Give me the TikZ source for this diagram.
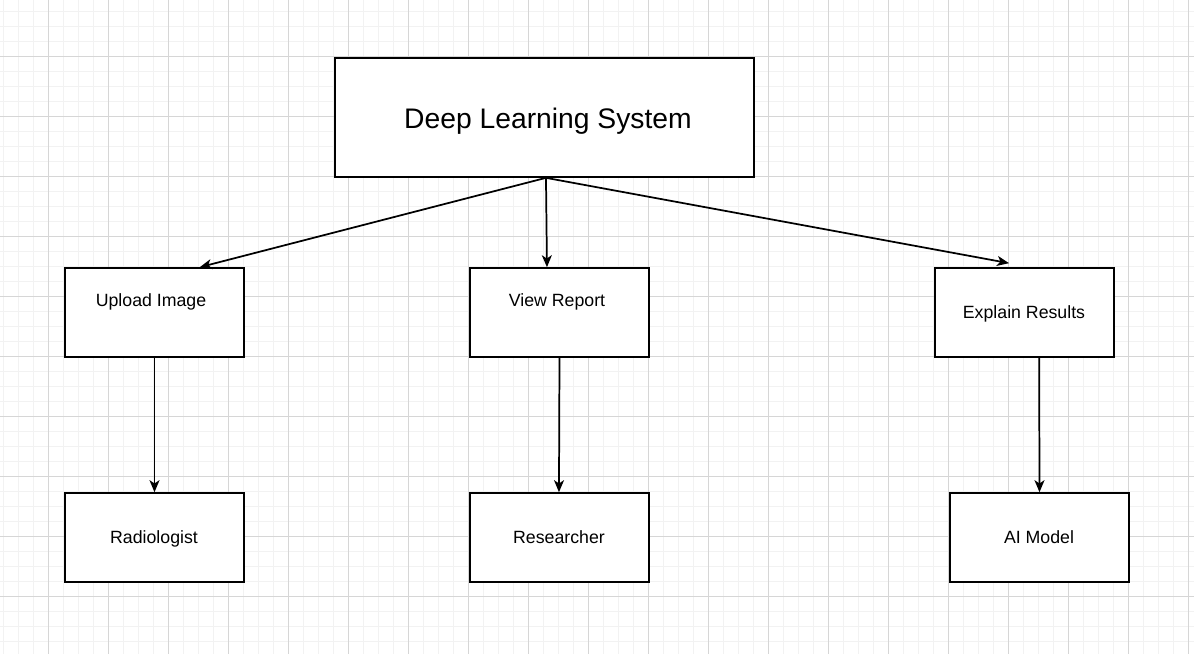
\documentclass[tikz,border=0pt]{standalone}
\usepackage{fontspec}
\setmainfont{Liberation Sans}
\usetikzlibrary{arrows.meta}
\tikzset{
  box/.style={draw=black, line width=1.25pt, fill=white, inner sep=0pt, minimum width=134.25pt, minimum height=66.75pt},
  lbl/.style={font=\fontsize{13.3pt}{15pt}\selectfont, anchor=base},
  conn/.style={line width=1.3pt, -{Stealth[length=9pt,width=7.5pt,inset=2.5pt]}},
}
\begin{document}
\begin{tikzpicture}[x=0.75pt,y=-0.75pt]
\useasboundingbox (0,0) rectangle (1194,654);
\fill[white] (0,0) rectangle (1194,654);
% minor grid
\foreach \x in {3,18,...,1194} \draw[color=black!5, line width=0.6pt] (\x,0) -- (\x,654);
\foreach \y in {11,26,...,654} \draw[color=black!5, line width=0.6pt] (0,\y) -- (1194,\y);
% major grid
\foreach \x in {48,108,...,1194} \draw[color=black!16, line width=0.6pt] (\x,0) -- (\x,654);
\foreach \y in {56,116,...,654} \draw[color=black!16, line width=0.6pt] (0,\y) -- (1194,\y);

% boxes
\node[box, minimum width=314.25pt, minimum height=89.25pt] (dls) at (544.5,117.5) {};
\node[font=\fontsize{21.2pt}{25pt}\selectfont, anchor=base] (dlsl) at (548,128.2) {Deep Learning System};

\node[box] (up) at (154.5,312.5) {};
\node[lbl] (upl) at (151,306.8) {Upload Image};
\node[box] (vr) at (559.5,312.5) {};
\node[lbl] (vrl) at (557,306.8) {View Report};
\node[box] (er) at (1024.5,312.5) {};
\node[lbl] (erl) at (1024,318.3) {Explain Results};

\node[box] (rad) at (154.5,537.5) {};
\node[lbl] (radl) at (154,543.5) {Radiologist};
\node[box] (res) at (559.5,537.5) {};
\node[lbl] (resl) at (559,543.5) {Researcher};
\node[box] (ai) at (1039.5,537.5) {};
\node[lbl] (ail) at (1039,543.5) {AI Model};

\coordinate (dlsb) at ([xshift=1.1pt]dls.south);

\draw[conn] (dlsb) -- ([xshift=34pt]up.north);
\draw[conn] (dlsb) -- ([xshift=-9.4pt]vr.north);
\draw[conn] (dlsb) -- ([xshift=-11.6pt,yshift=3pt]er.north);
\draw[conn] (up.south) -- (rad.north);
\draw[conn] (vr.south) -- ([xshift=-0.4pt]res.north);
\draw[conn] ([xshift=11pt]er.south) -- (ai.north);
\end{tikzpicture}
\end{document}
